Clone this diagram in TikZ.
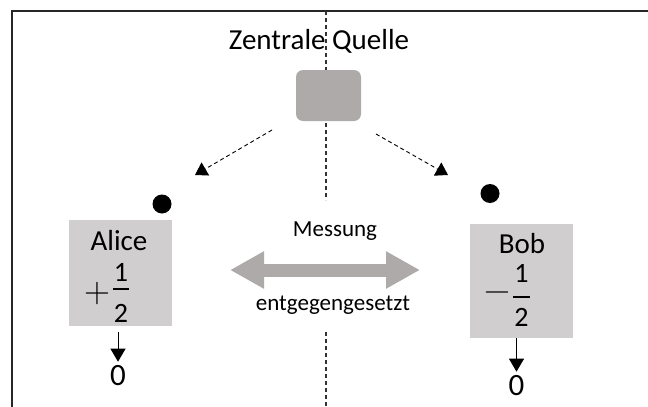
\documentclass[tikz,border=0pt]{standalone}
\usepackage{fontspec}
\setmainfont{Carlito}
\newfontfamily\zeichenfont{Latin Modern Roman}
\usetikzlibrary{arrows.meta,positioning}
\definecolor{quellgrau}{HTML}{AEAAAA}
\definecolor{kastengrau}{HTML}{D0CECE}

\begin{document}
\begin{tikzpicture}[x=1pt, y=-1pt,
	gross/.style={font=\fontsize{29}{34}\selectfont, inner sep=0pt},
	ziffer/.style={font=\fontsize{28}{32}\selectfont, inner sep=0pt},
	null/.style={font=\fontsize{31}{36}\selectfont, inner sep=0pt},
	zeichen/.style={font=\zeichenfont\fontsize{36}{40}\selectfont, inner sep=0pt},
	klein/.style={font=\fontsize{23}{28}\selectfont, inner sep=0pt},
	kasten/.style={fill=kastengrau, minimum width=103pt},
	bruch/.style={line width=1.4pt},
	teilchen/.style={circle, fill=black, minimum size=19pt, inner sep=0pt},
	flug/.style={line width=0.9pt, dash pattern=on 4pt off 3pt, -{Triangle[width=15pt,length=12pt]}},
	ergebnis/.style={line width=1pt, shorten >=3pt, -{Triangle[width=15pt,length=13pt]}}]
			%%%%% START %%%%%
			\useasboundingbox (0,0) rectangle (648,407);
			
			% Rahmen oben und links
			\draw[line width=2pt, black!85] (648,11) -- (12,11) -- (12,407);
			
			% Trennlinie in der Mitte, unterbrochen bei der Messung
			\coordinate (mitteO) at (326,11);
			\coordinate (mitteU1) at (326,200);
			\coordinate (mitteO2) at (326,332);
			\coordinate (mitteU) at (326,407);
			\draw[line width=1.2pt, black!80, dash pattern=on 4pt off 3pt] (mitteO) -- (mitteU1);
			\draw[line width=1.2pt, black!80, dash pattern=on 4pt off 3pt] (mitteO2) -- (mitteU);
			
			% Quelle
			\node[gross, anchor=base] (titel) at (319,49) {Zentrale Quelle};
			\node[fill=quellgrau, rounded corners=7pt, minimum width=65pt, minimum height=51pt] (quelle) at (328.5,95.5) {};
			
			\coordinate (abflugA) at (272,130);
			\coordinate (ankunftA) at (195,175);
			\coordinate (abflugB) at (376,134);
			\coordinate (ankunftB) at (448,175);
			\draw[flug] (abflugA) -- (ankunftA);
			\draw[flug] (abflugB) -- (ankunftB);
			
			\node[teilchen] (teilchenA) at (162,204) {};
			\node[teilchen] (teilchenB) at (490,193.5) {};
			
			% Alice
			\node[kasten, minimum height=106pt] (alice) at (120.5,273) {};
			\node[gross, anchor=base] (aliceName) at (119,250) {Alice};
			\node[zeichen] (alicePlus) at (97,294) {+};
			\node[ziffer, anchor=base] (aliceZ) at (121,281) {1};
			\node[ziffer, anchor=base] (aliceN) at (121,322) {2};
			\draw[bruch] (113,289) -- (129,289);
			\node[null, anchor=base] (nullA) at (118,385) {0};
			\draw[ergebnis] ([yshift=-6pt]alice.south -| nullA) -- (nullA.north);
			
			% Bob
			\node[kasten, minimum height=114pt] (bob) at (521,281) {};
			\node[gross, anchor=base] (bobName) at (522,253) {Bob};
			\node[zeichen] (bobMinus) at (497.5,297) {−};
			\node[ziffer, anchor=base] (bobZ) at (521.5,282) {1};
			\node[ziffer, anchor=base] (bobN) at (521.5,326) {2};
			\draw[bruch] (513,297) -- (530,297);
			\node[null, anchor=base] (nullB) at (516.5,395) {0};
			\draw[ergebnis] (bob.south -| nullB) -- (nullB.north);
			
			% Messung
			\node[klein, anchor=base] (messung) at (335,236) {Messung};
			\coordinate (links) at (230,270);
			\coordinate (rechts) at (420,270);
			\draw[quellgrau, line width=13pt, {Triangle[width=35pt,length=34pt]}-{Triangle[width=35pt,length=34pt]}] (links) -- (rechts);
			\node[klein, anchor=base] (gegen) at (333,310) {entgegengesetzt};
			%%%%% END %%%%%
\end{tikzpicture}
\end{document}
